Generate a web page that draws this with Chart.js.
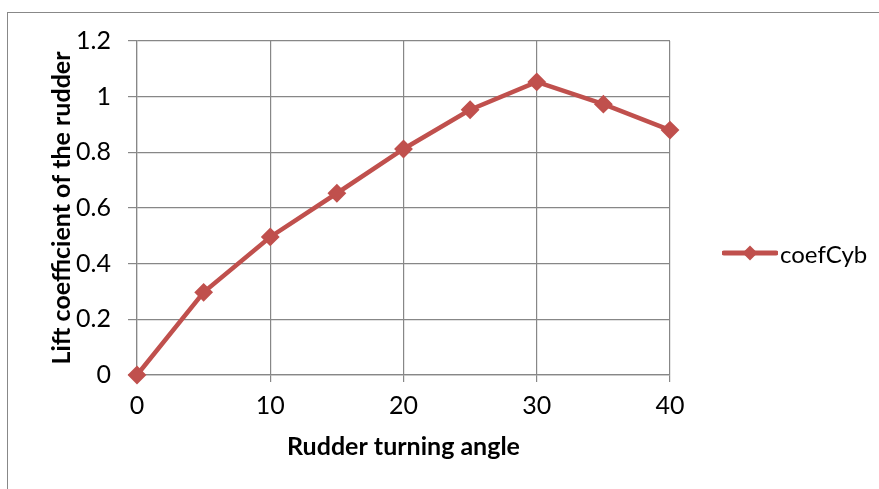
<!DOCTYPE html>
<html>
<head>
<meta charset="utf-8">
<script src="https://cdn.jsdelivr.net/npm/chart.js@4.4.1/dist/chart.umd.min.js"></script>
<style>
  html, body { margin: 0; padding: 0; background: #fff; }
  #wrap { position: relative; width: 879px; height: 489px; overflow: hidden; }
  #frame { position: absolute; left: 7px; top: 12px; width: 920px; height: 520px; border: 1.5px solid #888; box-sizing: border-box; }
  #legend { position: absolute; left: 722px; top: 238px; display: flex; align-items: center; font: 24px Lato, "Open Sans", sans-serif; color: #000; }
  #legend svg { margin-right: 2px; }
</style>
</head>
<body>
<div id="wrap">
  <div id="frame"></div>
  <canvas id="chart" width="879" height="489"></canvas>
  <div id="legend">
    <svg width="56" height="30" viewBox="0 0 56 30">
      <line x1="2" y1="15" x2="54" y2="15" stroke="#C0504D" stroke-width="5" stroke-linecap="round"/>
      <polygon points="28,7.5 35.5,15 28,22.5 20.5,15" fill="#C0504D"/>
    </svg>
    <span>coefCyb</span>
  </div>
</div>
<script>
// ── Data ──
const angles = [0, 5, 10, 15, 20, 25, 30, 35, 40];
const coefCyb = [0, 0.297, 0.496, 0.653, 0.812, 0.953, 1.053, 0.973, 0.880];
const xTicks = [0, 10, 20, 30, 40];
const yTicks = [0, 0.2, 0.4, 0.6, 0.8, 1, 1.2];

const FONT = 'Lato, "Open Sans", sans-serif';
const GRID = '#878787';

new Chart(document.getElementById('chart'), {
  type: 'line',
  data: {
    datasets: [{
      label: 'coefCyb',
      data: angles.map((a, i) => ({x: a, y: coefCyb[i]})),
      borderColor: '#C0504D',
      backgroundColor: '#C0504D',
      borderWidth: 4.5,
      pointStyle: 'rectRot',
      pointRadius: 8,
      pointBorderWidth: 2,
      tension: 0,
      clip: false,
    }],
  },
  options: {
    responsive: false,
    animation: false,
    layout: { padding: { top: 41, right: 209, left: 0, bottom: 0 } },
    plugins: { legend: { display: false }, tooltip: { enabled: false } },
    scales: {
      x: {
        type: 'linear', min: 0, max: 40,
        afterBuildTicks: s => { s.ticks = xTicks.map(v => ({value: v})); },
        afterFit: s => { s.height = 489 - 375; },
        ticks: { color: '#000', font: { family: FONT, size: 25 }, padding: 9, callback: v => String(v) },
        grid: { color: GRID, lineWidth: 1.2, tickLength: 7 },
        border: { color: GRID, width: 1.2 },
        title: { display: true, text: 'Rudder turning angle', color: '#000',
                 font: { family: FONT, size: 25, weight: 'bold' }, padding: { bottom: 27 } },
      },
      y: {
        type: 'linear', min: 0, max: 1.2,
        afterBuildTicks: s => { s.ticks = yTicks.map(v => ({value: v})); },
        afterFit: s => { s.width = 137; },
        ticks: { color: '#000', font: { family: FONT, size: 25 }, padding: 17, callback: v => String(v) },
        grid: { color: GRID, lineWidth: 1.2, tickLength: 9 },
        border: { color: GRID, width: 1.2 },
        title: { display: true, text: 'Lift coefficient of the rudder', color: '#000',
                 font: { family: FONT, size: 25, weight: 'bold' }, padding: { top: 47 } },
      },
    },
  },
});
</script>
</body>
</html>
